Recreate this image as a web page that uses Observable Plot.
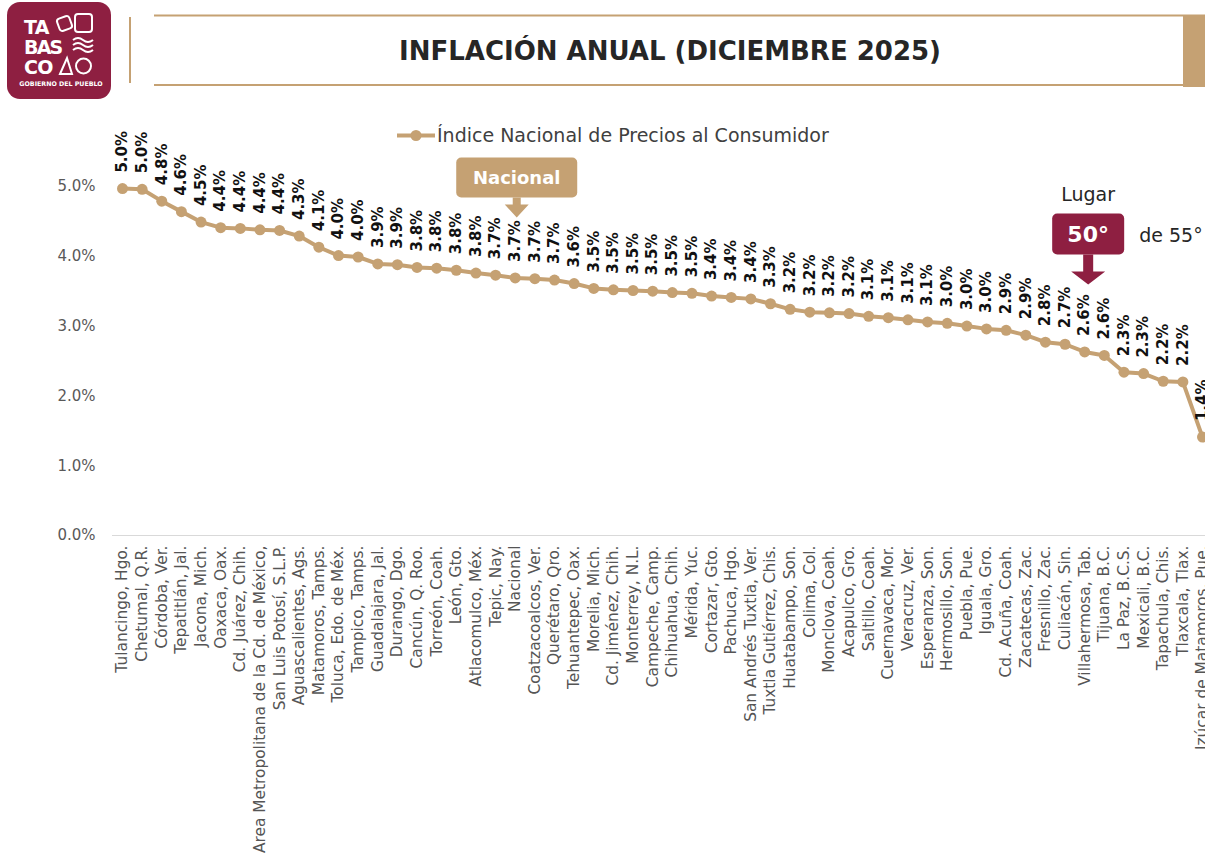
<!DOCTYPE html>
<html><head><meta charset="utf-8">
<script src="https://cdn.jsdelivr.net/npm/d3@7"></script>
<script src="https://cdn.jsdelivr.net/npm/@observablehq/plot@0.6"></script>
<style>
body{margin:0;background:#fff;font-family:"DejaVu Sans",sans-serif;}
#wrap{position:relative;width:1205px;height:861px;overflow:hidden;background:#fff;}
#chart{position:absolute;left:0;top:0;}
#header{position:absolute;left:0;top:0;}
</style></head><body>
<div id="wrap">
<div id="chart"></div>
<svg id="header" width="1205" height="105" xmlns="http://www.w3.org/2000/svg">
  <rect x="7" y="2" width="104" height="97" rx="13" fill="#8E1F41"/>
  <g fill="#fff" font-family="DejaVu Sans" font-weight="bold">
    <text x="24" y="34" font-size="19" letter-spacing="-0.8">TA</text>
    <text x="24" y="54" font-size="19" letter-spacing="-1.8">BAS</text>
    <text x="24" y="74" font-size="19" letter-spacing="-0.8">CO</text>
    <text x="61" y="86" font-size="6.3" text-anchor="middle">GOBIERNO DEL PUEBLO</text>
  </g>
  <g fill="none" stroke="#fff" stroke-width="2">
    <rect x="58" y="17" width="13" height="13" rx="3" transform="rotate(-20 64.5 23.5)"/>
    <rect x="75" y="14" width="17" height="18" rx="3"/>
    <path d="M73 40 q5 -4 10 0 t10 0 M73 45 q5 -4 10 0 t10 0 M73 50 q5 -4 10 0 t10 0"/>
    <path d="M60 74 L67 58 L72 74 Z"/>
    <circle cx="83.5" cy="66" r="7.5"/>
  </g>
  <line x1="130" y1="17" x2="130" y2="83" stroke="#C5A173" stroke-width="2"/>
  <line x1="154" y1="15.5" x2="1205" y2="15.5" stroke="#C5A173" stroke-width="2.2"/>
  <line x1="154" y1="85" x2="1205" y2="85" stroke="#C5A173" stroke-width="2.2"/>
  <rect x="1183" y="15" width="22" height="72" fill="#C5A173"/>
  <text x="670" y="60" text-anchor="middle" font-family="DejaVu Sans" font-weight="bold" font-size="26" fill="#262626">INFLACIÓN ANUAL (DICIEMBRE 2025)</text>
</svg>
</div>
<script>
const cities = [
  "Tulancingo, Hgo.", "Chetumal, Q.R.", "Córdoba, Ver.", "Tepatitlán, Jal.", "Jacona, Mich.",
  "Oaxaca, Oax.", "Cd. Juárez, Chih.", "Area Metropolitana de la Cd. de México,", "San Luis Potosí, S.L.P.", "Aguascalientes, Ags.",
  "Matamoros, Tamps.", "Toluca, Edo. de Méx.", "Tampico, Tamps.", "Guadalajara, Jal.", "Durango, Dgo.",
  "Cancún, Q. Roo.", "Torreón, Coah.", "León, Gto.", "Atlacomulco, Méx.", "Tepic, Nay.",
  "Nacional", "Coatzacoalcos, Ver.", "Querétaro, Qro.", "Tehuantepec, Oax.", "Morelia, Mich.",
  "Cd. Jiménez, Chih.", "Monterrey, N.L.", "Campeche, Camp.", "Chihuahua, Chih.", "Mérida, Yuc.",
  "Cortazar, Gto.", "Pachuca, Hgo.", "San Andrés Tuxtla, Ver.", "Tuxtla Gutiérrez, Chis.", "Huatabampo, Son.",
  "Colima, Col.", "Monclova, Coah.", "Acapulco, Gro.", "Saltillo, Coah.", "Cuernavaca, Mor.",
  "Veracruz, Ver.", "Esperanza, Son.", "Hermosillo, Son.", "Puebla, Pue.", "Iguala, Gro.",
  "Cd. Acuña, Coah.", "Zacatecas, Zac.", "Fresnillo, Zac.", "Culiacán, Sin.", "Villahermosa, Tab.",
  "Tijuana, B.C.", "La Paz, B.C.S.", "Mexicali, B.C.", "Tapachula, Chis.", "Tlaxcala, Tlax.",
  "Izúcar de Matamoros, Pue."
];
const values = [
  4.97, 4.96, 4.79, 4.64, 4.49,
  4.41, 4.40, 4.38, 4.37, 4.29,
  4.13, 4.01, 3.99, 3.89, 3.88,
  3.84, 3.83, 3.80, 3.76, 3.73,
  3.69, 3.68, 3.66, 3.61, 3.54,
  3.52, 3.51, 3.50, 3.48, 3.47,
  3.43, 3.41, 3.39, 3.32, 3.24,
  3.20, 3.19, 3.18, 3.14, 3.12,
  3.09, 3.06, 3.04, 3.00, 2.96,
  2.94, 2.87, 2.77, 2.74, 2.63,
  2.58, 2.34, 2.32, 2.21, 2.20,
  1.41
];
const yTicks = [0, 1, 2, 3, 4, 5];
const legendLabel = "Índice Nacional de Precios al Consumidor";
const nationalKey = "Nacional";
const highlightKey = "Villahermosa, Tab.";
const rankText = "50°";
const rankTotal = "de 55°";

const tan = "#C5A173";
const maroon = "#8E1F41";
const data = cities.map((c, i) => ({city: c, value: values[i]}));

const plot = Plot.plot({
  width: 1205, height: 861,
  marginLeft: 122, marginRight: 3, marginTop: 186, marginBottom: 326,
  style: {fontFamily: '"DejaVu Sans", sans-serif', background: "transparent", overflow: "visible"},
  x: {type: "point", domain: cities, padding: 0, label: null},
  y: {domain: [0, 5], label: null},
  marks: [
    Plot.ruleY([0], {stroke: "#d9d9d9", strokeWidth: 1, insetLeft: -10, insetRight: -3}),
    Plot.axisY({ticks: yTicks, tickFormat: d => d.toFixed(1) + "%", tickSize: 0, tickPadding: 27, fontSize: 15, color: "#595959", label: null}),
    Plot.axisX({tickRotate: -90, tickSize: 0, tickPadding: 10, fontSize: 15.4, color: "#555", label: null}),
    Plot.line(data, {x: "city", y: "value", stroke: tan, strokeWidth: 4}),
    Plot.dot(data, {x: "city", y: "value", r: 5.5, fill: tan}),
    Plot.text(data, {x: "city", y: "value", text: d => d.value.toFixed(1) + "%", rotate: -90, textAnchor: "start", dy: -16, fontWeight: "bold", fontSize: 15, fill: "#111"})
  ]
});
document.getElementById("chart").appendChild(plot);

const sx = plot.scale("x"), sy = plot.scale("y");
const svg = d3.select(plot);
const ann = svg.append("g").attr("text-anchor", "start");

// legend
const lg = ann.append("g");
lg.append("line").attr("x1", 397).attr("x2", 435).attr("y1", 135.5).attr("y2", 135.5).attr("stroke", tan).attr("stroke-width", 4);
lg.append("circle").attr("cx", 416).attr("cy", 135.5).attr("r", 5.5).attr("fill", tan);
lg.append("text").attr("x", 437).attr("y", 142).attr("text-anchor", "start").attr("font-size", 19).attr("fill", "#404040").text(legendLabel);

// Nacional callout
{
  const cx = sx.apply(nationalKey) + 2;
  const py = sy.apply(values[cities.indexOf(nationalKey)]);
  const top = py - 120, h = 40, w = 121;
  const g = ann.append("g");
  g.append("rect").attr("x", cx - w / 2).attr("y", top).attr("width", w).attr("height", h).attr("rx", 5).attr("fill", tan);
  g.append("path").attr("d", `M${cx-4},${top+h} L${cx+4},${top+h} L${cx+4},${top+h+7} L${cx+12},${top+h+7} L${cx},${top+h+20} L${cx-12},${top+h+7} L${cx-4},${top+h+7} Z`).attr("fill", tan);
  g.append("text").attr("x", cx).attr("y", top + 27).attr("text-anchor", "middle").attr("font-size", 18).attr("font-weight", "bold").attr("fill", "#fff").text("Nacional");
}
// Rank callout
{
  const cx = sx.apply(highlightKey) + 4;
  const py = sy.apply(values[cities.indexOf(highlightKey)]);
  const top = py - 138, h = 41, w = 72;
  const g = ann.append("g");
  g.append("rect").attr("x", cx - w / 2).attr("y", top).attr("width", w).attr("height", h).attr("rx", 5).attr("fill", maroon);
  g.append("path").attr("d", `M${cx-5},${top+h} L${cx+5},${top+h} L${cx+5},${top+h+17} L${cx+17},${top+h+17} L${cx},${top+h+30} L${cx-17},${top+h+17} L${cx-5},${top+h+17} Z`).attr("fill", maroon);
  g.append("text").attr("x", cx).attr("y", top + 29).attr("text-anchor", "middle").attr("font-size", 22).attr("font-weight", "bold").attr("fill", "#fff").text(rankText);
  g.append("text").attr("x", cx).attr("y", top - 12).attr("text-anchor", "middle").attr("font-size", 19).attr("fill", "#262626").text("Lugar");
  g.append("text").attr("x", cx + 51).attr("y", top + 29).attr("text-anchor", "start").attr("font-size", 19).attr("fill", "#262626").text(rankTotal);
}
</script>
</body></html>
